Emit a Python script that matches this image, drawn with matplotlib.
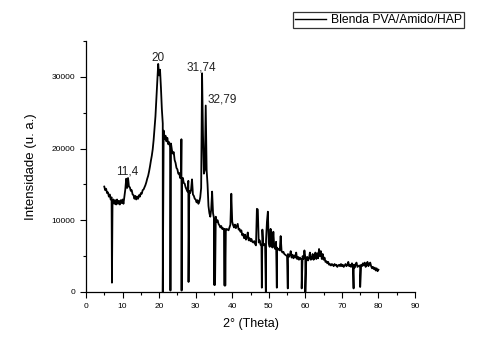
import numpy as np
import matplotlib
matplotlib.use("Agg")
import matplotlib.pyplot as plt
from matplotlib.ticker import MultipleLocator

x_start, x_step = 5.0, 0.25
intensity = [
    14700, 14200, 14400, 13800, 13900, 13300, 13600, 12900,
    13200, 12400, 12900, 12300, 12800, 12200, 12900, 12300,
    12700, 12200, 12800, 12400, 12900, 12300, 13300, 14300,
    15800, 14500, 15900, 14700, 14600, 14100, 14200, 13600,
    13500, 13000, 13400, 12900, 13300, 13000, 13500, 13300,
    13800, 13700, 14200, 14300, 14600, 14900, 15300, 15800,
    16200, 16800, 17500, 18300, 19000, 19900, 21200, 22800,
    24500, 27000, 29800, 31800, 30200, 31000, 28500, 25500,
    23500, 22500, 21300, 21800, 21000, 21500, 20600, 20900,
    20200, 20700, 19800, 19300, 19500, 18400, 18000, 17300,
    17100, 16500, 16600, 15900, 16100, 15800, 15900, 15200,
    15100, 14600, 14300, 14000, 15500, 14100, 13800, 14300,
    15700, 13600, 13400, 13000, 12900, 12500, 12800, 12300,
    12600, 13200, 14500, 30500, 22000, 16500, 17000, 26000,
    17000, 15000, 12000, 11000, 10500, 11500, 14000, 11000,
    10300, 10200, 10500, 9800, 10000, 9500, 9300, 9000,
    9200, 8800, 8900, 8600, 8800, 8500, 8800, 8700,
    8600, 9000, 9400, 13700, 9800, 9300, 9000, 9400,
    8900, 9200, 9500, 8700, 8800, 8400, 8600, 7900,
    8100, 7500, 8000, 7300, 7600, 8300, 7200, 7500,
    7100, 7400, 7000, 6900, 7100, 6700, 6500, 11600,
    11500, 6900, 7200, 6600, 6400, 8700, 6500, 6700,
    6400, 7200, 9800, 11200, 6800, 6300, 8800, 6500,
    6200, 8400, 6300, 6000, 7000, 6200, 5900, 6000,
    5800, 7800, 5700, 5500, 5600, 5300, 5200, 5100,
    5000, 5300, 4900, 5100, 5700, 4800, 5200, 4700,
    5100, 4800, 5500, 4600, 4900, 4500, 4800, 4600,
    4500, 5000, 4600, 5800, 4800, 4500, 4900, 4400,
    4700, 5500, 4500, 4600, 5300, 4500, 4700, 5500,
    4600, 5400, 4700, 6000, 5000, 5700, 4600, 5300,
    4500, 4800, 4200, 4300, 4000, 4200, 3800, 3900,
    3700, 3900, 3800, 3600, 3900, 3700, 3800, 3500,
    3700, 3800, 3600, 3900, 3600, 3800, 3500, 3700,
    3900, 3600, 3800, 4200, 3600, 3800, 3500, 4000,
    3700, 3800, 3400, 3900, 4100, 3500, 3600, 3700,
    3400, 3800, 3600, 4000, 3700, 4100, 3500, 3800,
    4200, 3600, 3900, 4100, 3600, 3300, 3500, 3200,
    3400, 3000, 3300, 2900, 3100,
]
dip_x = [7.1, 21.0, 23.1, 26.1, 26.15, 28.05, 35.05, 35.3, 37.9, 38.1,
         48.1, 49.2, 52.2, 55.2, 59.0, 60.0, 73.2, 75.0]
dip_y = [1300, 0, 200, 21300, 200, 1400, 1000, 1000, 900, 900,
         600, 0, 600, 500, 500, 0, 500, 700]

peak_labels = ["11,4", "20", "31,74", "32,79"]
label_x = [11.2, 19.7, 31.5, 37.2]
label_y = [16800, 32600, 31250, 26800]

x_main = x_start + x_step * np.arange(len(intensity))
xs = np.concatenate([x_main, dip_x])
ys = np.concatenate([intensity, dip_y])
order = np.argsort(xs, kind="stable")
xs, ys = xs[order], ys[order]

plt.rcParams["font.family"] = ["Liberation Sans", "DejaVu Sans"]
fig = plt.figure(figsize=(4.85, 3.53), dpi=100)
ax = fig.add_axes([86/485, 1-292/353, (415-86)/485, (292-41)/353])
line, = ax.plot(xs, ys, color="black", lw=1.3, label="Blenda PVA/Amido/HAP")

for t, lx, ly in zip(peak_labels, label_x, label_y):
    ax.text(lx, ly, t, ha="center", va="center", fontsize=8.5, color="#222222")

ax.set_xlim(0, 90)
ax.set_ylim(0, 35000)
ax.xaxis.set_major_locator(MultipleLocator(10))
ax.xaxis.set_minor_locator(MultipleLocator(5))
ax.yaxis.set_major_locator(MultipleLocator(10000))
ax.yaxis.set_minor_locator(MultipleLocator(5000))
ax.tick_params(which="major", direction="out", length=4, width=0.8, labelsize=6, pad=4)
ax.tick_params(which="minor", direction="out", length=2, width=0.8)
for s in ["top", "right"]:
    ax.spines[s].set_visible(False)
for s in ["left", "bottom"]:
    ax.spines[s].set_linewidth(0.9)
ax.set_xlabel("2° (Theta)", fontsize=9, labelpad=6)
ax.set_ylabel("Intensidade (u. a.)", fontsize=9.5, labelpad=10)

leg = fig.legend(handles=[line], loc="upper right",
                 bbox_to_anchor=(464/485, 1-12/353), fontsize=8.7,
                 frameon=True, fancybox=False, edgecolor="black",
                 handlelength=2.6, handletextpad=0.4, borderpad=0.15,
                 borderaxespad=0)
leg.get_frame().set_linewidth(0.9)
leg.get_lines()[0].set_linewidth(1.0)

fig.savefig("out.png", dpi=100)
